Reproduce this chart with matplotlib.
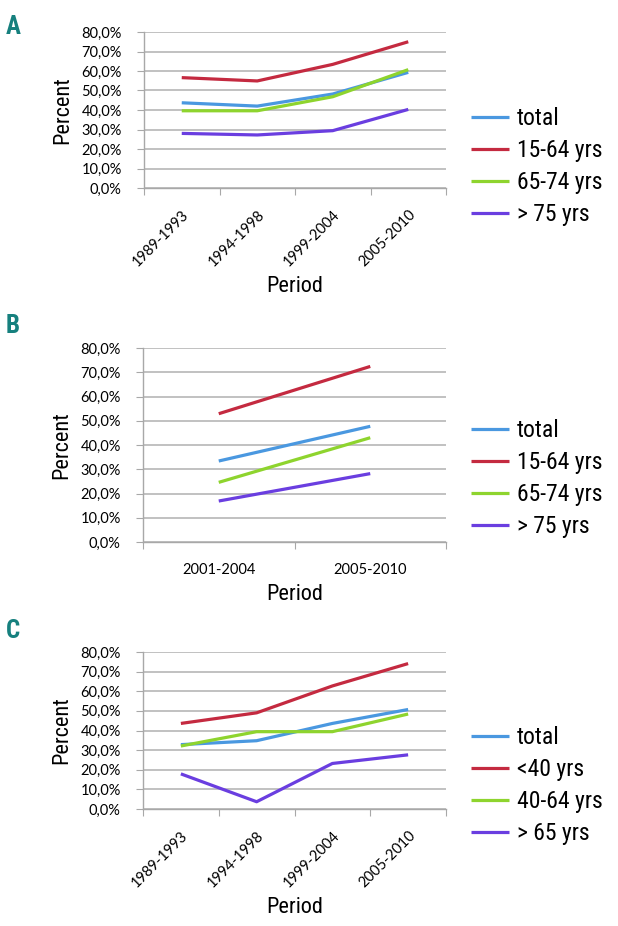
import numpy as np
import matplotlib.pyplot as plt
from matplotlib import font_manager as fm
from matplotlib.textpath import TextPath
from matplotlib.ticker import FuncFormatter

# Panel A
periods_a = ["1989-1993", "1994-1998", "1999-2004", "2005-2010"]
total_a = [43.7, 42.0, 48.2, 59.3]
young_a = [56.6, 54.9, 63.4, 75.0]
mid_a = [39.6, 39.6, 46.8, 60.7]
old_a = [28.0, 27.2, 29.4, 40.3]
labels_a = ["total", "15-64 yrs", "65-74 yrs", "> 75 yrs"]

# Panel B
periods_b = ["2001-2004", "2005-2010"]
total_b = [33.4, 47.7]
young_b = [52.9, 72.4]
mid_b = [24.6, 43.0]
old_b = [16.9, 28.2]
labels_b = ["total", "15-64 yrs", "65-74 yrs", "> 75 yrs"]

# Panel C
periods_c = ["1989-1993", "1994-1998", "1999-2004", "2005-2010"]
total_c = [32.8, 34.8, 43.6, 50.7]
young_c = [43.6, 49.0, 62.7, 74.1]
mid_c = [32.1, 39.4, 39.4, 48.4]
old_c = [17.9, 3.7, 23.2, 27.6]
labels_c = ["total", "<40 yrs", "40-64 yrs", "> 65 yrs"]

colors = ["#4a98e0", "#c42a40", "#8ed42e", "#6a3ee0"]
teal = "#16807e"
tickfont = ["Lato", "DejaVu Sans"]


def is_bold(f):
    return f.weight in (700, "bold")


def is_regular(f):
    return f.weight in (400, "normal", "regular")


# look for a narrow face (Arial Narrow look-alike), regular and bold
narrow_file = None
narrow_bold = None
prefs = ["Liberation Sans Narrow", "Roboto Condensed", "Open Sans Condensed",
         "Noto Sans Condensed"]
for want in prefs:
    reg = [f for f in fm.fontManager.ttflist
           if f.name == want and is_regular(f) and f.style == "normal"]
    if reg:
        narrow_file = reg[0].fname
        bold = [f for f in fm.fontManager.ttflist
                if f.name == want and is_bold(f) and f.style == "normal"]
        if bold:
            narrow_bold = bold[0].fname
        break
if narrow_file is None:
    for f in fm.fontManager.ttflist:
        if ("Narrow" in f.fname or "Condensed" in f.fname) and "Bold" not in f.fname \
                and "Oblique" not in f.fname and "Italic" not in f.fname:
            narrow_file = f.fname
            break
if narrow_bold is None and narrow_file:
    for f in fm.fontManager.ttflist:
        if ("Narrow" in f.fname or "Condensed" in f.fname) and "Bold" in f.fname \
                and "Oblique" not in f.fname and "Italic" not in f.fname:
            narrow_bold = f.fname
            break


def narrow(size, bold=False):
    if bold and narrow_bold:
        return fm.FontProperties(fname=narrow_bold, size=size)
    if narrow_file and not bold:
        return fm.FontProperties(fname=narrow_file, size=size)
    return fm.FontProperties(family=["Roboto", "DejaVu Sans"], size=size,
                             weight="bold" if bold else "normal")


def fit(text, target_px):
    # font size (pt) that makes the text target_px wide at 100 dpi
    w = TextPath((0, 0), text, size=10, prop=narrow(10)).get_extents().width
    return 10 * target_px / (w * 100 / 72)


lab_size = min(1.12 * fit("Period", 48), 16)
leg_size = min(fit("15-64 yrs", 84), 17)

W, H = 618, 926
fig = plt.figure(figsize=(W / 100, H / 100), dpi=100)


def px_axes(left, top, right, bottom):
    return fig.add_axes([left / W, 1 - bottom / H, (right - left) / W, (bottom - top) / H])


def style(ax, periods, rotate):
    n = len(periods)
    x = np.arange(n)
    ax.set_xlim(-0.5, n - 0.5)
    ax.set_ylim(0, 80)
    ax.set_yticks(np.arange(0, 81, 10))
    ax.yaxis.set_major_formatter(FuncFormatter(lambda v, p: f"{v:.1f}%".replace(".", ",")))
    ax.grid(axis="y", color="#bcbcbc", linewidth=1.3)
    ax.set_axisbelow(True)
    for s in ["top", "right"]:
        ax.spines[s].set_visible(False)
    for s in ["left", "bottom"]:
        ax.spines[s].set_color("#a8a8a8")
        ax.spines[s].set_linewidth(1.0)
    # category boundaries as ticks
    ax.set_xticks(np.arange(n + 1) - 0.5)
    ax.set_xticklabels([])
    ax.set_xticks(x, minor=True)
    ax.tick_params(axis="x", which="major", length=5, color="#a8a8a8", direction="out")
    ax.tick_params(axis="x", which="minor", length=0)
    ax.tick_params(axis="y", length=5, color="#a8a8a8", labelsize=10.5, pad=11)
    if rotate:
        ax.set_xticklabels(periods, minor=True, rotation=45, ha="right",
                           rotation_mode="anchor", fontsize=10.5, family=tickfont)
        ax.tick_params(axis="x", which="minor", pad=14)
    else:
        ax.set_xticklabels(periods, minor=True, fontsize=10.5, family=tickfont)
        ax.tick_params(axis="x", which="minor", pad=15)
    for t in ax.get_yticklabels():
        t.set_family(tickfont)
    ax.set_ylabel("Percent", fontproperties=narrow(lab_size), labelpad=6)
    ax.set_xlabel("Period", fontproperties=narrow(lab_size), labelpad=5)


def draw(ax, periods, series, labels, leg_y):
    x = np.arange(len(periods))
    handles = []
    for vals, c in zip(series, colors):
        h, = ax.plot(x, vals, color=c, linewidth=2.3, solid_capstyle="butt")
        handles.append(h)
    fig.legend(handles, labels, loc="upper left", bbox_to_anchor=(471 / W, 1 - leg_y / H),
               frameon=False, prop=narrow(leg_size),
               handlelength=1.6, handletextpad=0.35, labelspacing=0.38, borderaxespad=0,
               borderpad=0)


ax_a = px_axes(144, 32, 446, 188)
style(ax_a, periods_a, True)
draw(ax_a, periods_a, [total_a, young_a, mid_a, old_a], labels_a, 107)

ax_b = px_axes(143, 348, 446, 542)
style(ax_b, periods_b, False)
draw(ax_b, periods_b, [total_b, young_b, mid_b, old_b], labels_b, 419)

ax_c = px_axes(143, 652, 446, 809)
style(ax_c, periods_c, True)
draw(ax_c, periods_c, [total_c, young_c, mid_c, old_c], labels_c, 726)

for letter, y in [("A", 27), ("B", 326), ("C", 631)]:
    fig.text(6 / W, 1 - y / H, letter, color=teal, fontproperties=narrow(18, bold=True),
             va="center", ha="left")

fig.savefig("out.png", dpi=100)
